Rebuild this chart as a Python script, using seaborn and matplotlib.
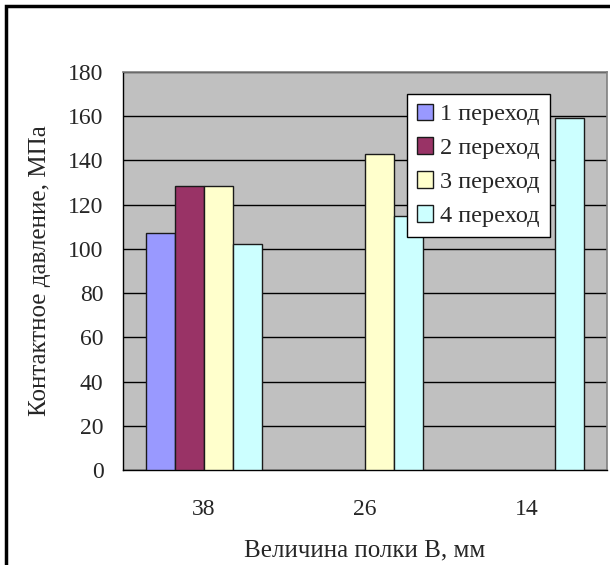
import matplotlib
matplotlib.use("Agg")
import matplotlib.pyplot as plt
import seaborn as sns
import pandas as pd
from matplotlib.patches import Rectangle

# Data
categories = ["38", "26", "14"]
series_names = ["1 переход", "2 переход", "3 переход", "4 переход"]
series1 = [107.3, None, None]
series2 = [128.5, None, None]
series3 = [128.5, 143.1, None]
series4 = [102.3, 114.8, 159.1]
colors = ["#9999FF", "#993366", "#FFFFCC", "#CCFFFF"]
yticks = [0, 20, 40, 60, 80, 100, 120, 140, 160, 180]

rows = []
for name, vals in zip(series_names, [series1, series2, series3, series4]):
    for c, v in zip(categories, vals):
        if v is not None:
            rows.append({"cat": c, "series": name, "value": v})
df = pd.DataFrame(rows)

sns.set_style("white")
plt.rcParams["font.family"] = ["Liberation Serif", "DejaVu Serif"]

fig = plt.figure(figsize=(6.1, 5.65), dpi=100)
ax = fig.add_axes([123/610, 1 - 470/565, (607-123)/610, (470-72)/565])
ax.set_facecolor("#C0C0C0")

sns.barplot(data=df, x="cat", y="value", hue="series", order=categories,
            hue_order=series_names, palette=colors, width=0.72, dodge=True,
            edgecolor="#1a1a1a", linewidth=1.0, saturation=1, ax=ax,
            errorbar=None, legend=True, zorder=3)

ax.set_ylim(0, 180)
ax.set_xlim(-0.5, 2.5)
ax.set_yticks(yticks)
ax.set_yticklabels([str(t) for t in yticks], fontsize=17)
ax.yaxis.grid(True, color="black", linewidth=1.0, zorder=1)
ax.set_axisbelow(True)

# x: labels at centers, ticks at boundaries
ax.set_xticks([0, 1, 2])
ax.set_xticklabels(categories, fontsize=17)
ax.tick_params(axis="x", length=0, pad=21)
ax.set_xticks([-0.5, 0.5, 1.5, 2.5], minor=True)
ax.tick_params(axis="x", which="minor", length=6, width=1, color="black", direction="out")
ax.tick_params(axis="y", length=6, width=1, color="black", direction="out", pad=8)

ax.set_xlabel("Величина полки В, мм", fontsize=18, labelpad=14)
ax.set_ylabel("Контактное давление, МПа", fontsize=18, labelpad=12)

for s in ["left", "bottom"]:
    ax.spines[s].set_color("black")
    ax.spines[s].set_linewidth(1.0)
for s in ["top", "right"]:
    ax.spines[s].set_color("#808080")
    ax.spines[s].set_linewidth(1.2)

handles, labels = ax.get_legend_handles_labels()
leg = ax.legend(handles, labels, loc="upper left", bbox_to_anchor=(0.587, 0.945),
                borderaxespad=0, fontsize=17.5, frameon=True, fancybox=False,
                edgecolor="black", framealpha=1, handlelength=0.66, handleheight=0.66,
                handletextpad=0.3, labelspacing=0.5, borderpad=0.4)
leg.get_frame().set_linewidth(1.0)

# outer chart frame (cropped at right/bottom)
fig.patches.append(Rectangle((6/610, -0.05), 1.1, 1 - 6/565 + 0.05,
                             transform=fig.transFigure, fill=False,
                             edgecolor="black", linewidth=2.5))

fig.savefig("out.png", dpi=100, facecolor="white")
